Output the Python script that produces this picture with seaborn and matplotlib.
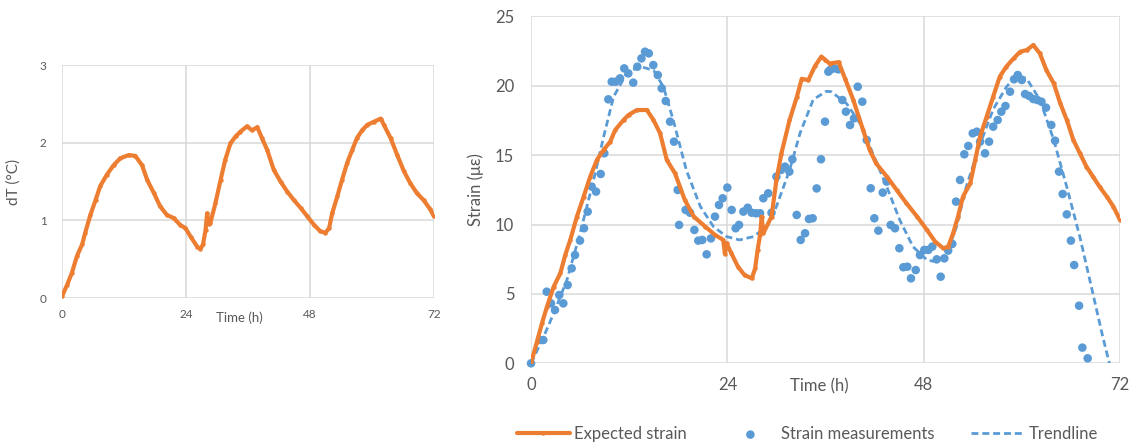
import matplotlib
matplotlib.use("Agg")
import matplotlib.pyplot as plt
import numpy as np
import pandas as pd
import seaborn as sns

ORANGE = "#ED7D31"
BLUE = "#5B9BD5"
GREY = "#595959"
GRID = "#D9D9D9"

# Left panel: temperature change dT (degC) vs time (h)
dt_time = [0, 1.0, 1.9, 2.9, 3.9, 4.5, 5.5, 6.5, 7.4, 8.7, 10.0, 11.3, 12.9, 14.2,
           15.5, 16.5, 17.8, 19.0, 20.3, 21.6, 22.9, 23.9, 24.9, 26.2, 26.8, 27.3,
           27.8, 28.1, 28.4, 28.7, 29.7, 30.7, 31.6, 32.6, 33.6, 34.5, 35.8, 36.8,
           37.8, 38.7, 39.7, 41.0, 42.3, 43.6, 44.9, 46.2, 47.5, 48.8, 50.0, 51.0,
           51.7, 52.3, 53.3, 54.2, 55.2, 56.2, 57.1, 58.1, 59.1, 60.4, 61.7, 62.3,
           63.6, 64.9, 66.2, 67.4, 68.7, 70.0, 71.3, 72.0]
dt_values = [0.02, 0.17, 0.32, 0.54, 0.69, 0.84, 1.07, 1.26, 1.44, 1.59, 1.71, 1.80,
             1.84, 1.83, 1.71, 1.52, 1.35, 1.18, 1.07, 1.03, 0.94, 0.90, 0.79, 0.66,
             0.63, 0.69, 0.88, 1.09, 0.95, 0.96, 1.22, 1.52, 1.78, 1.99, 2.08, 2.14,
             2.21, 2.16, 2.20, 2.06, 1.91, 1.65, 1.50, 1.37, 1.26, 1.16, 1.05, 0.94,
             0.86, 0.84, 0.90, 1.09, 1.31, 1.52, 1.74, 1.91, 2.06, 2.16, 2.23, 2.27,
             2.31, 2.23, 2.06, 1.84, 1.63, 1.48, 1.35, 1.26, 1.14, 1.05]

# Right panel: expected strain (orange line)
exp_time = [0, 0.73, 1.34, 1.95, 2.77, 3.58, 4.19, 4.8, 5.61, 6.43, 7.24, 8.05, 8.87,
            9.68, 10.29, 11.31, 11.92, 12.94, 14.16, 14.97, 15.78, 16.6, 17.6, 18.8,
            19.9, 21.3, 22.5, 23.5, 23.7, 23.9, 24.5, 25.3, 26.1, 27.0, 27.4, 27.7,
            28.0, 28.2, 28.4, 29.4, 30.0, 30.6, 31.6, 32.5, 33.1, 33.9, 34.7, 35.5,
            36.0, 36.5, 37.6, 38.4, 39.4, 40.6, 41.4, 42.2, 43.5, 44.7, 45.9, 47.2,
            48.4, 49.4, 50.4, 51.0, 51.6, 52.2, 52.8, 53.7, 54.3, 54.9, 55.7, 56.5,
            57.3, 58.1, 59.0, 59.8, 60.6, 61.4, 62.2, 63.0, 63.9, 64.7, 65.5, 66.3,
            67.1, 67.9, 68.7, 69.5, 70.4, 71.2, 72.0]
exp_strain = [0, 1.56, 2.88, 4.08, 5.52, 6.48, 7.81, 8.89, 10.57, 12.0, 13.45, 14.65,
              15.37, 15.97, 16.81, 17.53, 17.89, 18.25, 18.25, 17.53, 16.57, 14.65,
              13.69, 11.77, 10.57, 9.85, 9.25, 8.89, 7.9, 8.65, 7.92, 6.96, 6.36, 6.12,
              6.84, 8.17, 9.25, 10.57, 9.37, 10.57, 13.2, 15.1, 17.5, 19.2, 20.5, 20.4,
              21.4, 22.1, 21.85, 21.6, 21.7, 20.5, 18.97, 16.8, 15.37, 14.4, 13.45,
              12.49, 11.53, 10.57, 9.61, 8.77, 8.29, 8.41, 9.37, 10.57, 12.0, 12.97,
              14.65, 16.33, 17.77, 19.21, 20.65, 21.37, 21.97, 22.45, 22.57, 22.93,
              22.33, 21.13, 20.17, 18.73, 17.53, 16.09, 15.13, 14.17, 13.45, 12.73,
              12.0, 11.29, 10.33]

# Right panel: strain measurements (blue dots)
meas_time = [0, 1.1, 1.5, 1.92, 2.44, 2.93, 3.46, 3.95, 4.48, 4.97, 5.38, 5.99, 6.48,
             6.93, 7.42, 7.95, 8.52, 8.96, 9.45, 9.87, 10.35, 10.88, 11.4, 11.9, 12.5,
             13.0, 13.5, 13.94, 14.4, 14.95, 15.5, 15.98, 16.47, 17.0, 17.48, 17.93,
             18.1, 18.9, 19.44, 19.97, 20.45, 20.94, 21.47, 22.0, 22.49, 22.98, 23.43,
             24.0, 24.53, 25.02, 25.43, 25.96, 26.49, 26.98, 27.5, 28.0, 28.4, 29.0,
             29.4, 30.0, 30.56, 31.05, 31.58, 31.95, 32.48, 32.97, 33.5, 33.98, 34.43,
             34.92, 35.45, 35.94, 36.35, 36.55, 37.08, 37.57, 38.06, 38.5, 39.0, 39.49,
             39.94, 40.5, 41.04, 41.53, 41.97, 42.46, 43.0, 43.48, 43.97, 44.5, 45.03,
             45.52, 46.0, 46.45, 47.03, 47.55, 48.08, 48.57, 49.06, 49.6, 50.08, 50.53,
             51.0, 51.5, 51.96, 52.45, 52.97, 53.46, 54.0, 54.5, 54.9, 55.5, 56.0,
             56.5, 57.05, 57.5, 58.0, 58.56, 59.05, 59.5, 60.0, 60.4, 60.9, 61.4,
             61.9, 62.4, 62.96, 63.6, 64.06, 64.55, 65.0, 65.5, 66.0, 66.4, 67.0,
             67.4, 68.05]
meas_strain = [0, 1.68, 1.68, 5.16, 4.32, 3.84, 4.92, 4.32, 5.64, 6.84, 7.8, 8.84,
               9.73, 10.93, 12.73, 12.37, 13.64, 15.13, 19.02, 20.29, 20.29, 20.53,
               21.25, 20.89, 20.22, 21.37, 21.97, 22.45, 22.33, 21.49, 20.77, 19.81,
               18.9, 17.41, 15.97, 12.49, 9.97, 11.05, 10.85, 9.61, 8.84, 8.89, 7.85,
               9.0, 10.57, 11.41, 11.89, 12.66, 11.05, 9.73, 9.97, 10.93, 11.21, 10.85,
               10.81, 10.81, 11.89, 12.25, 10.85, 13.45, 13.93, 14.17, 13.81, 14.7,
               10.69, 8.89, 9.37, 10.4, 10.45, 12.6, 14.7, 17.41, 21.01, 21.13, 21.25,
               21.18, 18.97, 18.13, 17.17, 17.65, 19.93, 18.85, 16.09, 12.61, 10.45,
               9.56, 12.3, 13.09, 9.97, 9.73, 8.29, 6.92, 6.96, 6.12, 6.72, 7.8, 8.17,
               8.17, 8.41, 7.49, 6.24, 7.56, 8.12, 8.6, 11.65, 13.21, 15.06, 15.66,
               16.57, 16.69, 15.97, 15.13, 15.97, 17.05, 17.53, 18.13, 18.54, 19.57,
               20.46, 20.77, 20.41, 19.4, 19.26, 19.04, 18.97, 18.85, 18.42, 17.17,
               16.04, 13.81, 12.2, 10.73, 8.84, 7.08, 4.15, 1.13, 0.36]

# Right panel: polynomial trendline (blue dashed)
trend_time = [0, 1.55, 2.77, 4.39, 6.0, 7.65, 8.87, 10.09, 11.7, 13.3, 15.0, 16.2,
              17.4, 19.0, 20.7, 22.3, 23.9, 25.5, 27.2, 28.8, 30.0, 31.6, 32.9, 34.5,
              36.1, 36.7, 38.6, 40.2, 41.8, 43.5, 45.1, 46.7, 48.4, 49.6, 50.8, 52.0,
              53.2, 54.9, 56.5, 58.1, 59.4, 60.6, 62.2, 63.9, 65.5, 67.1, 68.7, 69.9,
              70.7, 71.0]
trend_strain = [0, 1.92, 3.6, 6.0, 9.37, 13.2, 16.3, 19.2, 20.9, 21.4, 21.1, 19.9,
                17.5, 13.9, 11.3, 9.85, 9.13, 8.89, 9.13, 9.85, 11.3, 13.9, 16.6, 19.0,
                19.6, 19.57, 18.7, 17.3, 15.1, 12.7, 10.3, 8.4, 7.45, 7.3, 7.9, 9.8,
                12.7, 15.8, 18.3, 19.9, 20.8, 20.5, 19.0, 16.1, 12.7, 9.1, 5.0, 1.9,
                0.0, -0.9]

time_ticks = [0, 24, 48, 72]

sns.set_style("white")
plt.rcParams["font.family"] = ["Lato", "DejaVu Sans"]

fig = plt.figure(figsize=(11.39, 4.46), dpi=100)
ax1 = fig.add_axes([0.0544, 0.3318, 0.3266, 0.5224])
ax2 = fig.add_axes([0.4662, 0.1854, 0.5171, 0.778])


def excel_style(ax, yticks, size, xpad, ypad):
    ax.set_xlim(0, 72)
    ax.set_xticks(time_ticks)
    ax.set_yticks(yticks)
    ax.set_ylim(yticks[0], yticks[-1])
    ax.grid(True, color=GRID, linewidth=1.1)
    for s in ax.spines.values():
        s.set_visible(False)
    ax.tick_params(axis="both", length=0, labelsize=size, labelcolor=GREY)
    ax.tick_params(axis="x", pad=xpad)
    ax.tick_params(axis="y", pad=ypad)


# left: dT
sns.lineplot(x=dt_time, y=dt_values, ax=ax1, color=ORANGE, linewidth=3,
             marker="o", markersize=3.2, markeredgewidth=0, sort=False,
             estimator=None)
excel_style(ax1, [0, 1, 2, 3], 8.5, 8, 11)
ax1.set_xlabel("Time (h)", fontsize=9.5, color=GREY, va="center")
ax1.xaxis.set_label_coords(0.477, -0.083)
ax1.set_ylabel("dT (°C)", fontsize=11, color=GREY, labelpad=14)

# right: strain
sns.lineplot(x=exp_time, y=exp_strain, ax=ax2, color=ORANGE, linewidth=3,
             marker="o", markersize=3.2, markeredgewidth=0, sort=False,
             estimator=None, label="Expected strain", zorder=3)
sns.scatterplot(x=meas_time, y=meas_strain, ax=ax2, color=BLUE, s=38,
                edgecolor="none", label="Strain measurements", zorder=2,
                clip_on=False)
sns.lineplot(x=trend_time, y=trend_strain, ax=ax2, color=BLUE, linewidth=2,
             linestyle=(0, (2.5, 1.4)), sort=False, estimator=None,
             label="Trendline", zorder=2)
excel_style(ax2, [0, 5, 10, 15, 20, 25], 12, 10, 12)
ax2.set_xlabel("Time (h)", fontsize=12, color=GREY, va="center")
ax2.xaxis.set_label_coords(0.49, -0.066)
ax2.set_ylabel("Strain (με)", fontsize=12, color=GREY, labelpad=8)

handles, labels = ax2.get_legend_handles_labels()
ax2.get_legend().remove()
fig.legend(handles, labels, loc="center", bbox_to_anchor=(0.709, 0.027), ncol=3,
           frameon=False, fontsize=12, labelcolor=GREY, columnspacing=2.2,
           handlelength=3.2, handletextpad=0.25)

fig.savefig("out.png", dpi=100)
